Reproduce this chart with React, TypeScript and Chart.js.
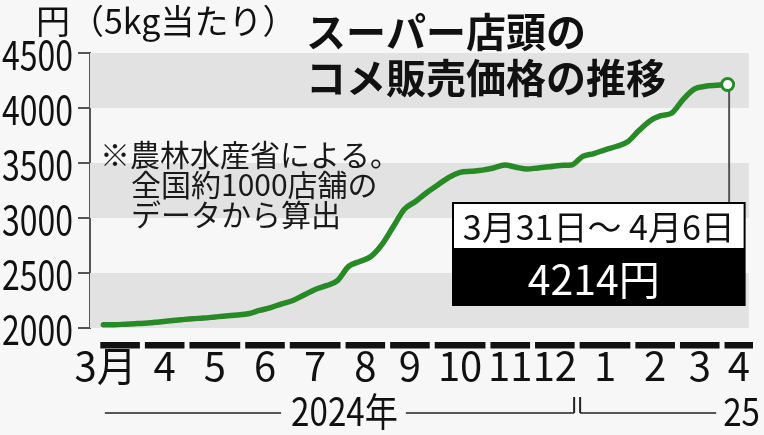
import React, { useEffect, useRef } from "react";
import { Chart, registerables } from "chart.js";

Chart.register(...registerables);

// Weekly average supermarket rice price (yen per 5kg), 2024-03 .. 2025-03/31-04/06
const weeklyPrice = [
  2030, 2030, 2035, 2040, 2045, 2055, 2065, 2075, 2085, 2090,
  2100, 2110, 2118, 2130, 2160, 2185, 2220, 2250, 2300, 2350,
  2385, 2430, 2560, 2605, 2650, 2760, 2920, 3080, 3150, 3230,
  3300, 3370, 3415, 3425, 3435, 3455, 3482, 3462, 3445, 3455,
  3465, 3478, 3482, 3560, 3585, 3620, 3650, 3690, 3790, 3880,
  3930, 3955, 4077, 4172, 4197, 4206, 4214,
];
const monthLabels = ["3月", "4", "5", "6", "7", "8", "9", "10", "11", "12", "1", "2", "3", "4"];
const monthWeeks = [4, 4, 5, 4, 5, 4, 4, 5, 4, 4, 5, 4, 4, 3];
const yTickValues = [2000, 2500, 3000, 3500, 4000, 4500];
const bandRanges = [
  [2000, 2500],
  [3000, 3500],
  [4000, 4500],
];
const yearLabels = ["2024年", "25"];
const firstYearMonths = 10;
const titleLines = ["スーパー店頭の", "コメ販売価格の推移"];
const noteLines = ["※農林水産省による。", "全国約1000店舗の", "データから算出"];
const unitLabel = "円（5kg当たり）";
const latestPeriod = "3月31日～ 4月6日";

const CJK = "'Noto Sans CJK JP', 'Noto Sans', sans-serif";
const GREEN = "#278a27";

function monthStarts() {
  const s: number[] = [];
  let acc = 0;
  for (const n of monthWeeks) {
    s.push(acc);
    acc += n;
  }
  return s;
}

function squeezedText(ctx: any, text: string, x: number, y: number, sx: number, align: string) {
  ctx.save();
  ctx.translate(x, y);
  ctx.scale(sx, 1);
  ctx.textAlign = align;
  ctx.fillText(text, 0, 0);
  ctx.restore();
}

const decorPlugin = {
  id: "decor",
  beforeDraw(chart: any) {
    const { ctx, width, height } = chart;
    ctx.save();
    ctx.fillStyle = "#f7f7f7";
    ctx.fillRect(0, 0, width, height);
    ctx.restore();
  },
  beforeDatasetsDraw(chart: any) {
    const { ctx, chartArea } = chart;
    const ys = chart.scales.y;
    const xs = chart.scales.x;
    ctx.save();
    ctx.fillStyle = "#e2e2e2";
    for (const [a, b] of bandRanges) {
      const y0 = ys.getPixelForValue(b);
      const y1 = ys.getPixelForValue(a);
      ctx.fillRect(chartArea.left, y0, chartArea.right - chartArea.left, y1 - y0);
    }
    // leader line from latest point to the label box
    const last = weeklyPrice.length - 1;
    const px = xs.getPixelForValue(last) + 1.5;
    const py = ys.getPixelForValue(weeklyPrice[last]);
    ctx.strokeStyle = "#555";
    ctx.lineWidth = 2;
    ctx.beginPath();
    ctx.moveTo(px, py);
    ctx.lineTo(px, 204);
    ctx.stroke();
    ctx.restore();
  },
  afterDatasetsDraw(chart: any) {
    const { ctx, chartArea, width } = chart;
    const xs = chart.scales.x;
    const ys = chart.scales.y;
    ctx.save();

    // y tick labels (condensed digits), from the y scale ticks
    ctx.fillStyle = "#111";
    ctx.font = `40px ${CJK}`;
    ctx.textBaseline = "middle";
    for (const t of ys.ticks) {
      const y = ys.getPixelForValue(t.value);
      squeezedText(ctx, String(t.value), chartArea.left - 17, y + 2, 0.8, "right");
    }

    // unit label
    ctx.fillStyle = "#111";
    ctx.textBaseline = "alphabetic";
    ctx.textAlign = "left";
    ctx.font = `34px ${CJK}`;
    ctx.fillText(unitLabel, 36, 34);

    // title
    ctx.font = `bold 40px ${CJK}`;
    ctx.fillText(titleLines[0], 306, 47);
    ctx.fillText(titleLines[1], 306, 93);

    // note
    ctx.font = `30px ${CJK}`;
    ctx.fillStyle = "#1a1a1a";
    ctx.fillText(noteLines[0], 100, 166);
    ctx.fillText(noteLines[1], 131, 196);
    ctx.fillText(noteLines[2], 131, 226);

    // latest value box
    const last = weeklyPrice.length - 1;
    const px = xs.getPixelForValue(last);
    const bx0 = 453;
    const bx1 = px + 17;
    const by0 = 203;
    const bmid = 248;
    const by1 = 305;
    ctx.fillStyle = "#ffffff";
    ctx.fillRect(bx0, by0, bx1 - bx0, bmid - by0);
    ctx.fillStyle = "#000";
    ctx.fillRect(bx0, bmid, bx1 - bx0, by1 - bmid);
    ctx.strokeStyle = "#000";
    ctx.lineWidth = 2;
    ctx.strokeRect(bx0, by0, bx1 - bx0, by1 - by0);
    ctx.textAlign = "center";
    ctx.textBaseline = "middle";
    ctx.fillStyle = "#111";
    ctx.font = `34px ${CJK}`;
    ctx.fillText(latestPeriod, (bx0 + bx1) / 2, 227);
    ctx.fillStyle = "#fff";
    ctx.font = `41px ${CJK}`;
    ctx.fillText(`${weeklyPrice[last]}円`, (bx0 + bx1) / 2 - 5, 279);

    // month bars
    const starts = monthStarts();
    const barTop = chartArea.bottom + 14;
    ctx.fillStyle = "#111";
    starts.forEach((s, i) => {
      const x0 = xs.getPixelForValue(s - 0.5) + 2.5;
      const x1 = Math.min(xs.getPixelForValue(s + monthWeeks[i] - 0.5) - 2.5, width);
      ctx.fillRect(x0, barTop, x1 - x0, 6.5);
    });

    // year bracket
    const lineY = 413;
    const xStart = xs.getPixelForValue(-0.5);
    const yb = xs.getPixelForValue(starts[firstYearMonths] - 0.5);
    ctx.font = `39px ${CJK}`;
    ctx.textBaseline = "alphabetic";
    ctx.fillStyle = "#111";
    const sx = 0.85;
    const w24 = ctx.measureText(yearLabels[0]).width * sx;
    const c24 = (xStart + yb) / 2 + 7;
    squeezedText(ctx, yearLabels[0], c24, 426, sx, "center");
    const w25 = ctx.measureText(yearLabels[1]).width * sx;
    squeezedText(ctx, yearLabels[1], width - 4, 426, sx, "right");
    ctx.strokeStyle = "#222";
    ctx.lineWidth = 1.5;
    ctx.beginPath();
    ctx.moveTo(xStart + 7, lineY);
    ctx.lineTo(c24 - w24 / 2 - 10, lineY);
    ctx.moveTo(c24 + w24 / 2 + 8, lineY);
    ctx.lineTo(yb - 3, lineY);
    ctx.moveTo(yb + 3, lineY);
    ctx.lineTo(width - 4 - w25 - 7, lineY);
    ctx.stroke();
    ctx.lineWidth = 2;
    ctx.beginPath();
    ctx.moveTo(yb - 3, lineY);
    ctx.lineTo(yb - 3, lineY - 16);
    ctx.moveTo(yb + 3, lineY);
    ctx.lineTo(yb + 3, lineY - 16);
    ctx.stroke();

    ctx.restore();
  },
};

export default function App() {
  const ref = useRef<HTMLCanvasElement | null>(null);
  useEffect(() => {
    document.body.style.margin = "0";
    const canvas = ref.current;
    if (!canvas) return;
    const last = weeklyPrice.length - 1;
    const starts = monthStarts();
    const tickPos = starts.map((s, i) => s - 0.5 + monthWeeks[i] / 2);
    tickPos[0] -= 1.3;
    const chart = new Chart(canvas, {
      type: "line",
      data: {
        datasets: [
          {
            data: weeklyPrice.map((v, i) => ({ x: i, y: v })),
            borderColor: GREEN,
            borderWidth: 5.5,
            cubicInterpolationMode: "monotone",
            borderCapStyle: "round",
            borderJoinStyle: "round",
            pointRadius: weeklyPrice.map((_, i) => (i === last ? 6 : 0)),
            pointBackgroundColor: "#ffffff",
            pointBorderColor: GREEN,
            pointBorderWidth: 3,
            fill: false,
          },
        ],
      },
      options: {
        responsive: false,
        animation: false,
        events: [],
        layout: { padding: { top: 53, right: 4, left: 0, bottom: 0 } },
        plugins: { legend: { display: false }, tooltip: { enabled: false } },
        scales: {
          x: {
            type: "linear",
            min: -1.2,
            max: 57.9,
            grid: { display: false, drawTicks: false },
            border: { display: false },
            afterBuildTicks: (s: any) => {
              s.ticks = tickPos.map((v) => ({ value: v }));
            },
            afterFit: (s: any) => {
              s.height = 107;
            },
            ticks: {
              autoSkip: false,
              maxRotation: 0,
              padding: 14,
              color: "#111",
              font: { family: CJK, size: 40 },
              callback: (_v: any, i: number) => monthLabels[i],
            },
          },
          y: {
            type: "linear",
            min: 2000,
            max: 4500,
            afterBuildTicks: (s: any) => {
              s.ticks = yTickValues.map((v) => ({ value: v }));
            },
            afterFit: (s: any) => {
              s.width = 90;
            },
            grid: {
              drawOnChartArea: false,
              drawTicks: true,
              tickLength: 12,
              color: "#555",
              lineWidth: 2,
            },
            border: { display: true, color: "#555", width: 2 },
            ticks: { display: false },
          },
        },
      },
      plugins: [decorPlugin],
    } as any);
    return () => chart.destroy();
  }, []);
  return <canvas ref={ref} width={764} height={435} style={{ display: "block" }} />;
}
